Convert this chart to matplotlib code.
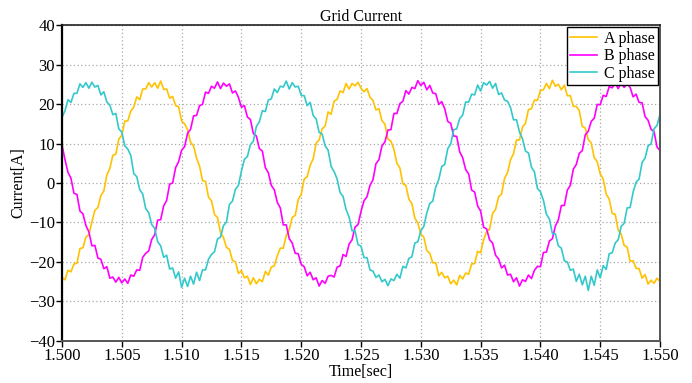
import numpy as np
import matplotlib.pyplot as plt

plt.rcParams['font.family'] = ['Liberation Serif', 'DejaVu Serif']

# sampled every 0.25 ms from 1.500 s to 1.550 s (201 points)
t0, dt = 1.500, 0.00025

a_phase = [
    -24.0, -24.5, -22.1, -22.5, -20.5, -20.3, -16.6, -16.4, -13.7, -13.1,
    -9.8, -6.9, -6.2, -3.2, -2.0, 2.0, 3.7, 7.0, 7.3, 11.1,
    12.1, 15.7, 15.7, 18.2, 19.2, 21.8, 21.1, 23.8, 23.8, 25.4,
    24.3, 25.4, 24.0, 25.8, 23.7, 23.8, 21.5, 21.9, 19.6, 19.3,
    15.7, 15.0, 13.5, 10.3, 9.4, 6.3, 4.3, 0.6, 0.4, -3.6,
    -4.5, -8.0, -8.7, -12.5, -13.8, -16.3, -16.8, -19.6, -20.0, -22.9,
    -22.2, -24.0, -23.6, -25.7, -24.0, -25.5, -24.4, -25.0, -22.4, -23.3,
    -21.3, -21.0, -18.4, -16.5, -16.5, -13.3, -11.8, -8.7, -8.2, -4.2,
    -2.9, 1.0, 1.6, 4.5, 6.1, 10.1, 10.9, 13.7, 14.4, 18.0,
    17.4, 20.7, 21.2, 23.3, 22.9, 25.2, 23.8, 25.2, 24.6, 25.5,
    24.0, 23.1, 23.9, 21.7, 20.9, 18.5, 18.8, 15.8, 14.9, 11.1,
    10.6, 8.5, 5.0, 3.8, -0.2, -0.6, -4.1, -5.2, -8.9, -10.1,
    -12.9, -13.7, -17.1, -17.8, -20.2, -20.2, -23.5, -22.6, -24.0, -23.6,
    -25.5, -24.6, -25.8, -23.4, -24.3, -22.8, -23.1, -20.5, -20.4, -17.3,
    -17.7, -14.4, -12.3, -11.7, -7.7, -6.7, -3.5, -2.8, 1.2, 2.6,
    5.9, 7.4, 10.9, 10.9, 14.2, 15.1, 18.6, 18.8, 21.0, 20.9,
    23.4, 23.6, 25.2, 23.9, 26.0, 24.5, 25.0, 23.6, 24.8, 22.1,
    22.1, 19.4, 19.4, 18.3, 14.3, 13.9, 11.0, 10.1, 6.4, 5.4,
    2.3, 1.0, -2.8, -4.1, -7.7, -7.9, -11.9, -12.9, -15.8, -16.2,
    -19.8, -19.7, -21.6, -21.7, -24.1, -23.2, -25.6, -24.6, -25.4, -24.1,
    -25.0,
]

b_phase = [
    9.6, 5.9, 2.7, 1.2, -2.6, -2.9, -7.1, -7.8, -10.8, -12.4,
    -15.9, -15.8, -19.0, -19.3, -21.7, -21.2, -24.1, -23.8, -25.1, -23.9,
    -25.3, -24.3, -25.4, -23.3, -23.6, -22.0, -22.1, -18.8, -17.8, -17.2,
    -14.3, -13.1, -9.4, -9.3, -5.8, -4.4, -0.3, 0.0, 3.9, 5.4,
    8.3, 9.2, 12.6, 13.6, 17.0, 17.1, 19.6, 19.9, 23.0, 22.7,
    24.5, 24.0, 25.6, 23.9, 25.3, 24.5, 25.1, 22.8, 23.3, 21.7,
    19.2, 19.6, 16.7, 16.1, 12.5, 11.9, 8.7, 8.1, 3.9, 2.6,
    -0.6, -1.7, -4.9, -6.3, -10.6, -10.6, -14.1, -15.2, -17.8, -17.9,
    -20.6, -21.2, -23.5, -22.6, -24.5, -24.0, -26.1, -24.7, -25.4, -23.6,
    -23.4, -23.8, -21.3, -21.0, -18.1, -18.6, -15.5, -14.4, -11.2, -10.5,
    -7.2, -4.5, -3.5, -0.6, 0.8, 4.9, 5.9, 9.4, 10.4, 13.4,
    13.5, 17.6, 17.6, 20.1, 20.7, 23.4, 22.5, 24.2, 23.9, 25.9,
    24.7, 25.5, 23.6, 24.7, 22.8, 22.6, 19.9, 20.6, 18.8, 15.6,
    15.1, 11.9, 11.8, 7.9, 6.4, 3.4, 2.3, -1.8, -2.3, -5.8,
    -7.1, -11.2, -11.6, -14.4, -15.2, -18.3, -19.2, -21.5, -20.8, -23.3,
    -23.1, -25.0, -24.0, -26.1, -24.5, -24.9, -23.3, -24.2, -22.1, -21.1,
    -21.2, -17.6, -17.5, -14.7, -14.1, -10.9, -9.3, -5.7, -5.7, -1.8,
    -0.6, 3.5, 4.7, 7.5, 8.2, 12.2, 13.1, 15.6, 16.4, 19.9,
    19.8, 22.2, 21.9, 24.4, 24.1, 25.4, 23.9, 25.3, 24.2, 25.2,
    24.2, 21.8, 22.5, 20.4, 20.3, 16.8, 15.9, 13.6, 13.0, 9.1,
    8.2,
]

c_phase = [
    16.6, 18.3, 21.1, 20.4, 22.7, 22.7, 25.1, 24.2, 25.4, 24.0,
    25.5, 24.3, 24.7, 22.3, 23.1, 20.5, 19.7, 17.3, 17.6, 13.7,
    12.9, 9.4, 8.6, 7.0, 2.4, 1.6, -1.7, -2.8, -6.5, -7.5,
    -10.5, -11.5, -14.9, -15.9, -18.8, -18.3, -21.8, -21.5, -24.1, -22.5,
    -26.4, -24.1, -26.2, -23.6, -25.6, -22.6, -24.7, -22.0, -22.0, -19.3,
    -18.1, -17.4, -14.2, -13.7, -10.8, -9.9, -5.4, -4.6, -1.6, -0.6,
    3.0, 6.0, 6.7, 9.7, 10.6, 14.3, 15.5, 18.3, 18.1, 21.0,
    21.3, 23.8, 22.9, 24.5, 24.3, 25.8, 23.8, 25.4, 24.3, 24.5,
    22.2, 22.1, 19.6, 20.4, 17.1, 16.2, 12.8, 12.4, 9.4, 8.3,
    4.2, 2.9, 1.0, -2.4, -3.4, -6.7, -8.6, -12.1, -12.1, -15.6,
    -16.0, -18.9, -18.9, -22.0, -22.3, -23.9, -23.3, -25.0, -24.4, -26.0,
    -24.3, -24.7, -23.1, -24.1, -21.1, -21.5, -19.1, -18.7, -15.2, -14.9,
    -12.1, -11.0, -7.6, -5.2, -4.6, -1.0, 0.9, 4.2, 4.7, 8.7,
    9.9, 13.5, 13.7, 16.3, 17.2, 20.5, 20.5, 22.5, 22.3, 24.8,
    23.3, 25.4, 24.8, 25.7, 24.0, 25.2, 22.4, 22.8, 21.0, 20.7,
    19.1, 16.0, 16.0, 12.9, 11.2, 8.1, 7.6, 4.0, 2.8, -1.4,
    -2.2, -4.4, -7.9, -9.1, -12.8, -12.9, -15.9, -16.5, -19.7, -20.0,
    -22.1, -21.8, -24.9, -23.1, -25.8, -23.6, -27.2, -23.6, -25.9, -22.0,
    -24.0, -20.9, -21.9, -17.9, -17.7, -15.2, -14.4, -11.0, -10.2, -6.3,
    -6.2, -2.3, 0.2, 1.0, 5.2, 6.3, 9.4, 9.9, 13.7, 14.6,
    17.4,
]

labels = ['A phase', 'B phase', 'C phase']
colors = ['#FFC200', '#FF00FF', '#33C9CC']

t = t0 + dt * np.arange(len(a_phase))

fig = plt.figure(figsize=(6.92, 3.83), dpi=100)
ax = fig.add_axes([0.0896, 0.1097, 0.8642, 0.825])

for y, lab, col in zip([a_phase, b_phase, c_phase], labels, colors):
    ax.plot(t, y, color=col, lw=1.2, label=lab)

ax.set_xlim(1.500, 1.550)
ax.set_ylim(-40, 40)
ax.set_xticks(np.arange(1.500, 1.5501, 0.005))
ax.set_xticklabels(['%.3f' % v for v in np.arange(1.500, 1.5501, 0.005)])
ax.set_yticks(np.arange(-40, 41, 10))

ax.grid(True, color='#a8a8a8', ls=(0, (1, 2)), lw=0.9)
ax.tick_params(labelsize=12, length=4, width=1, direction='out', pad=1)

ax.spines['left'].set_color('black')
ax.spines['left'].set_linewidth(1.6)
ax.spines['top'].set_color('#222222')
ax.spines['top'].set_linewidth(1.2)
for s in ['bottom', 'right']:
    ax.spines[s].set_color('#555555')
    ax.spines[s].set_linewidth(1.4)

ax.set_title('Grid Current', fontsize=11.5, pad=2)
ax.set_xlabel('Time[sec]', fontsize=11.5, labelpad=0)
ax.set_ylabel('Current[A]', fontsize=11.5, labelpad=2)

leg = ax.legend(loc='upper right', fontsize=11.5, fancybox=False, framealpha=1,
                edgecolor='black', borderaxespad=0.15, borderpad=0.2,
                handlelength=1.7, handletextpad=0.4, labelspacing=0.1)
leg.get_frame().set_linewidth(1.0)

fig.savefig('out.png', dpi=100)
